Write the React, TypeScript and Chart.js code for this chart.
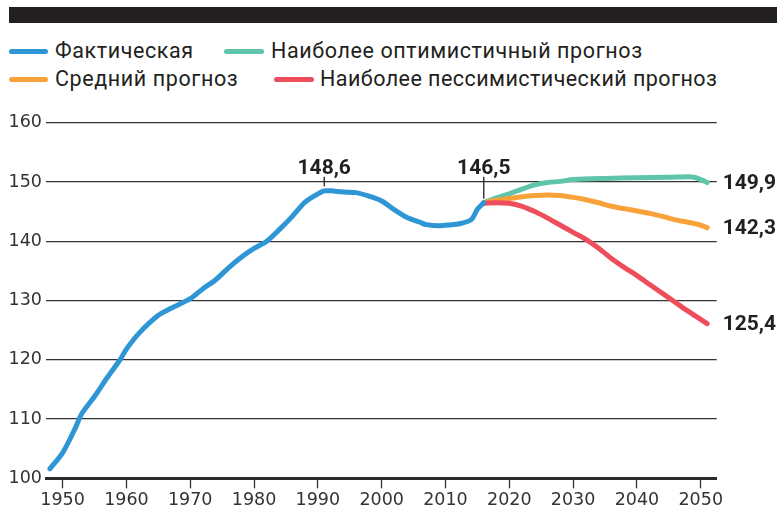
import React, { useEffect, useRef } from "react";
import { Chart, registerables } from "chart.js";

Chart.register(...registerables);

// ---- data ----
const actualYears = [1948, 1950, 1952, 1953, 1955, 1957, 1959, 1960, 1962, 1965, 1967, 1970, 1972, 1974, 1976, 1978, 1980, 1982, 1984, 1986, 1988, 1990, 1991, 1992, 1994, 1996, 1998, 2000, 2002, 2004, 2006, 2007, 2009, 2011, 2012, 2014, 2015, 2016];
const actualValues = [101.6, 104.3, 108.5, 110.9, 113.8, 117.0, 120.0, 121.8, 124.5, 127.5, 128.7, 130.3, 132.0, 133.5, 135.5, 137.3, 138.8, 140.0, 142.0, 144.2, 146.6, 148.0, 148.5, 148.5, 148.3, 148.2, 147.6, 146.8, 145.3, 144.0, 143.2, 142.8, 142.6, 142.8, 142.9, 143.6, 145.4, 146.5];

const optimisticYears = [2016, 2018, 2020, 2022, 2024, 2026, 2028, 2030, 2035, 2040, 2045, 2048, 2049, 2050, 2051];
const optimisticValues = [146.5, 147.3, 148.0, 148.8, 149.5, 149.9, 150.1, 150.4, 150.6, 150.7, 150.8, 150.9, 150.8, 150.4, 149.9];

const mediumYears = [2016, 2018, 2020, 2022, 2024, 2026, 2028, 2030, 2032, 2034, 2036, 2038, 2040, 2042, 2044, 2046, 2048, 2050, 2051];
const mediumValues = [146.5, 146.9, 147.2, 147.5, 147.7, 147.8, 147.7, 147.4, 147.0, 146.5, 145.9, 145.5, 145.1, 144.7, 144.2, 143.6, 143.2, 142.7, 142.3];

const pessimisticYears = [2016, 2018, 2020, 2022, 2024, 2026, 2028, 2030, 2032, 2034, 2036, 2038, 2040, 2042, 2044, 2046, 2048, 2050, 2051];
const pessimisticValues = [146.4, 146.5, 146.4, 145.9, 145.0, 143.9, 142.7, 141.5, 140.3, 138.8, 137.1, 135.6, 134.2, 132.7, 131.2, 129.7, 128.2, 126.8, 126.1];

const seriesNames = ["Фактическая", "Наиболее оптимистичный прогноз", "Средний прогноз", "Наиболее пессимистический прогноз"];
const seriesColors = ["#2f96d6", "#5ec5aa", "#faa23a", "#ee4d5b"];

const xTickYears = [1950, 1960, 1970, 1980, 1990, 2000, 2010, 2020, 2030, 2040, 2050];
const yTickValues = [100, 110, 120, 130, 140, 150, 160];

const peakYears = [1991, 2016];
const peakValues = [148.6, 146.5];
const peakLabels = ["148,6", "146,5"];

const endLabels = ["149,9", "142,3", "125,4"];

const toPoints = (xs: number[], ys: number[]) => xs.map((x, i) => ({ x, y: ys[i] }));

const tickFont = { family: "'DejaVu Sans', sans-serif", size: 17.5, weight: "normal" as any };

const annotationPlugin = {
  id: "annotations",
  afterDatasetsDraw(chart: any) {
    const { ctx, scales, chartArea } = chart;
    const xs = scales.x;
    const ys = scales.y;
    ctx.save();
    ctx.font = "bold 21px Roboto, 'DejaVu Sans', sans-serif";
    ctx.fillStyle = "#231f20";
    ctx.strokeStyle = "#231f20";
    ctx.lineWidth = 1.3;
    const labelBottom = chartArea.top + 51;
    peakYears.forEach((yr, i) => {
      const px = xs.getPixelForValue(yr);
      const py = ys.getPixelForValue(peakValues[i]);
      ctx.beginPath();
      ctx.moveTo(px, py - 4);
      ctx.lineTo(px, labelBottom + 3);
      ctx.stroke();
      ctx.textAlign = "center";
      ctx.textBaseline = "alphabetic";
      ctx.fillText(peakLabels[i], px, labelBottom);
    });
    const ends = [chart.data.datasets[1], chart.data.datasets[2], chart.data.datasets[3]];
    ends.forEach((ds: any, i: number) => {
      const last = ds.data[ds.data.length - 1];
      const py = ys.getPixelForValue(last.y);
      ctx.textAlign = "left";
      ctx.textBaseline = "middle";
      ctx.fillText(endLabels[i], chartArea.right + 6, py + 1);
    });
    ctx.restore();
  },
};

function Legend() {
  const item = (i: number, left: number, top: number, swatchW: number, gap: number, ls: number) => (
    <div style={{ position: "absolute", left, top, display: "flex", alignItems: "center", height: 28 }}>
      <div style={{ width: swatchW, height: 5, borderRadius: 3, background: seriesColors[i] }} />
      <div
        style={{
          marginLeft: gap,
          fontSize: 21.5,
          letterSpacing: ls + "px",
          color: "#231f20",
          whiteSpace: "nowrap",
          lineHeight: "28px",
        }}
      >
        {seriesNames[i]}
      </div>
    </div>
  );
  return (
    <>
      {item(0, 9, 37, 39, 7, 0.6)}
      {item(1, 224, 37, 40, 7, 0.6)}
      {item(2, 9, 65, 39, 7, 0.6)}
      {item(3, 274, 65, 40, 6, 0.45)}
    </>
  );
}

export default function App() {
  const canvasRef = useRef<HTMLCanvasElement | null>(null);

  useEffect(() => {
    if (!canvasRef.current) return;
    const chart = new Chart(canvasRef.current, {
      type: "line",
      data: {
        datasets: [
          { label: seriesNames[0], data: toPoints(actualYears, actualValues), borderColor: seriesColors[0], order: 0 },
          { label: seriesNames[1], data: toPoints(optimisticYears, optimisticValues), borderColor: seriesColors[1], order: 3 },
          { label: seriesNames[2], data: toPoints(mediumYears, mediumValues), borderColor: seriesColors[2], order: 2 },
          { label: seriesNames[3], data: toPoints(pessimisticYears, pessimisticValues), borderColor: seriesColors[3], order: 1 },
        ].map((d) => ({
          ...d,
          borderWidth: 5,
          borderCapStyle: "round",
          borderJoinStyle: "round",
          pointRadius: 0,
          tension: 0.3,
          fill: false,
        })) as any,
      },
      plugins: [annotationPlugin],
      options: {
        animation: false,
        responsive: false,
        maintainAspectRatio: false,
        layout: { padding: { top: 122.7, right: 64.3, left: 0, bottom: 0 } },
        plugins: { legend: { display: false }, tooltip: { enabled: false } },
        scales: {
          x: {
            type: "linear",
            min: 1947.4,
            max: 2052.5,
            afterBuildTicks: (s: any) => {
              s.ticks = xTickYears.map((v) => ({ value: v }));
            },
            afterFit: (s: any) => {
              s.height = 50.7;
            },
            grid: { drawOnChartArea: false, drawTicks: true, tickLength: 10, tickColor: "#333", tickWidth: 1.3 },
            border: { display: true, color: "#2b2b2b", width: 3 },
            ticks: {
              padding: 2,
              maxRotation: 0,
              autoSkip: false,
              color: "#333",
              font: tickFont,
              callback: (v: any) => String(v),
            },
          },
          y: {
            type: "linear",
            min: 100,
            max: 160,
            afterBuildTicks: (s: any) => {
              s.ticks = yTickValues.map((v) => ({ value: v }));
            },
            afterFit: (s: any) => {
              s.width = 46;
            },
            grid: { drawTicks: false, color: "#333", lineWidth: 1.2 },
            border: { display: false },
            ticks: {
              padding: 4,
              color: "#333",
              font: tickFont,
              callback: (v: any) => String(v),
            },
          },
        },
      },
    });
    return () => chart.destroy();
  }, []);

  return (
    <div
      style={{
        position: "fixed",
        left: 0,
        top: 0,
        width: 781,
        height: 529,
        background: "#fff",
        fontFamily: "Roboto, 'DejaVu Sans', sans-serif",
        overflow: "hidden",
      }}
    >
      <div style={{ position: "absolute", left: 9, top: 7, width: 768, height: 16, background: "#231f20" }} />
      <Legend />
      <canvas ref={canvasRef} width={781} height={529} style={{ position: "absolute", left: 0, top: 0, width: 781, height: 529 }} />
    </div>
  );
}
